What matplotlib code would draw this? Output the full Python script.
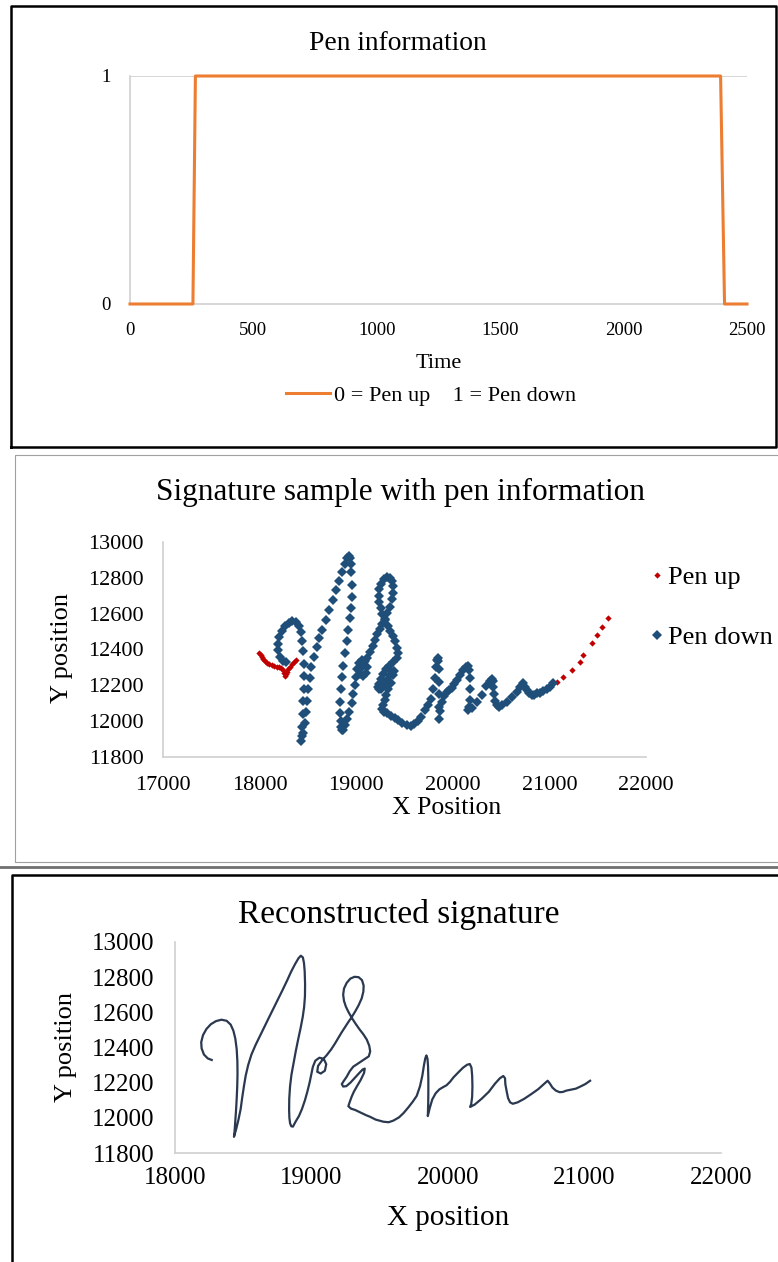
import matplotlib.pyplot as plt
from matplotlib.lines import Line2D

W, H = 778, 1262
plt.rcParams['font.family'] = ['Liberation Serif', 'DejaVu Serif']

# pen state over time: 0 = pen up, 1 = pen down
pen_time = [0, 255, 265, 2393, 2409, 2500]
pen_state = [0, 0, 1, 1, 0, 0]

# pen-up samples recorded before the first stroke and after the last one
up_start_x = [17997, 18010, 18022, 18040, 18056, 18078, 18101, 18125, 18149, 18175,
              18201, 18222, 18239, 18252, 18263, 18272, 18280, 18298, 18315, 18336,
              18356, 18377]
up_start_y = [12382, 12368, 12356, 12345, 12336, 12327, 12319, 12313, 12308, 12304,
              12301, 12294, 12286, 12270, 12252, 12262, 12276, 12290, 12304, 12318,
              12332, 12341]
up_end_x = [21075, 21144, 21231, 21317, 21345, 21438, 21490, 21542, 21604]
up_end_y = [12220, 12248, 12286, 12332, 12369, 12435, 12481, 12527, 12574]

# pen-down samples (the signature itself)
sig_x = [18269, 18240, 18212, 18195, 18192, 18205, 18230, 18262, 18300, 18340,
         18378, 18408, 18428, 18442, 18452, 18457, 18458, 18456, 18452, 18447,
         18441, 18436, 18432, 18448, 18465, 18481, 18492, 18505, 18518, 18536,
         18560, 18590, 18620, 18650, 18685, 18720, 18755, 18790, 18822, 18850,
         18880, 18905, 18922, 18937, 18945, 18950, 18953, 18952, 18946, 18936,
         18920, 18902, 18885, 18868, 18853, 18843, 18837, 18836, 18838, 18843,
         18852, 18864, 18884, 18908, 18930, 18952, 18970, 18986, 18999, 19010,
         19028, 19058, 19090, 19108, 19098, 19068, 19042, 19048, 19080, 19110,
         19143, 19170, 19195, 19220, 19245, 19270, 19295, 19320, 19345, 19368,
         19380, 19382, 19370, 19345, 19315, 19285, 19258, 19238, 19232, 19238,
         19252, 19272, 19298, 19325, 19352, 19380, 19405, 19423, 19430, 19420,
         19380, 19343, 19306, 19280, 19258, 19235, 19222, 19232, 19255, 19285,
         19320, 19350, 19375, 19390, 19385, 19360, 19331, 19310, 19294, 19280,
         19270, 19290, 19319, 19360, 19400, 19429, 19470, 19526, 19565, 19599,
         19640, 19673, 19710, 19742, 19771, 19795, 19812, 19824, 19834, 19842,
         19850, 19854, 19856, 19856, 19855, 19852, 19866, 19885, 19910, 19937,
         19965, 19989, 20015, 20040, 20075, 20110, 20140, 20160, 20172, 20177,
         20179, 20177, 20170, 20162, 20195, 20247, 20299, 20345, 20380, 20405,
         20418, 20420, 20430, 20440, 20455, 20475, 20510, 20558, 20610, 20661,
         20700, 20730, 20748, 20765, 20790, 20817, 20840, 20868, 20900, 20937,
         20970, 21006, 21041]
sig_y = [12329, 12338, 12360, 12395, 12430, 12470, 12505, 12532, 12550, 12558,
         12552, 12530, 12495, 12450, 12390, 12320, 12250, 12180, 12110, 12040,
         11970, 11920, 11892, 11935, 11990, 12050, 12113, 12180, 12240, 12300,
         12360, 12414, 12462, 12510, 12565, 12620, 12675, 12730, 12782, 12830,
         12875, 12908, 12922, 12912, 12880, 12834, 12760, 12691, 12630, 12575,
         12510, 12445, 12380, 12310, 12245, 12180, 12109, 12044, 12000, 11969,
         11952, 11950, 11979, 12010, 12050, 12100, 12150, 12200, 12248, 12290,
         12325, 12342, 12335, 12305, 12268, 12252, 12262, 12295, 12330, 12355,
         12388, 12420, 12453, 12485, 12515, 12545, 12573, 12605, 12640, 12680,
         12718, 12752, 12783, 12800, 12802, 12792, 12768, 12735, 12700, 12665,
         12632, 12600, 12565, 12533, 12503, 12475, 12445, 12410, 12378, 12350,
         12329, 12310, 12291, 12265, 12234, 12208, 12192, 12178, 12180, 12200,
         12230, 12255, 12275, 12280, 12255, 12215, 12177, 12148, 12120, 12090,
         12066, 12052, 12045, 12030, 12015, 12006, 11990, 11978, 11975, 11984,
         12002, 12026, 12060, 12092, 12125, 12180, 12240, 12300, 12340, 12355,
         12335, 12290, 12220, 12150, 12080, 12010, 12055, 12105, 12140, 12162,
         12175, 12185, 12205, 12230, 12258, 12285, 12302, 12306, 12285, 12240,
         12180, 12120, 12078, 12062, 12075, 12109, 12148, 12195, 12225, 12238,
         12225, 12192, 12150, 12112, 12088, 12080, 12088, 12108, 12135, 12163,
         12190, 12211, 12193, 12172, 12155, 12146, 12147, 12155, 12160, 12166,
         12178, 12192, 12211]

PEN_ORANGE = '#ED7D31'
DOWN_BLUE = '#1F4E79'
UP_RED = '#C00000'
SIG_INK = '#2A3950'
AXIS_GREY = '#D0D0D0'


def px_box(left, top, right, bottom):
    return [left / W, 1 - bottom / H, (right - left) / W, (bottom - top) / H]


def px_text(x, y, s, size, **kw):
    fig.text(x / W, 1 - y / H, s, fontsize=size, ha='center', va='center', **kw)


def px_line(xs, ys, color, lw):
    fig.add_artist(Line2D([x / W for x in xs], [1 - y / H for y in ys],
                          color=color, lw=lw, transform=fig.transFigure))


def plain_axes(ax):
    for side in ('top', 'right'):
        ax.spines[side].set_visible(False)
    for side in ('left', 'bottom'):
        ax.spines[side].set_color(AXIS_GREY)
        ax.spines[side].set_linewidth(1.2)


fig = plt.figure(figsize=(W / 100, H / 100), dpi=100)

# --- pen information over time ---
ax1 = fig.add_axes(px_box(130, 76, 747, 304))
plain_axes(ax1)
ax1.axhline(1, color=AXIS_GREY, lw=1.2, zorder=1)
ax1.plot(pen_time, pen_state, color=PEN_ORANGE, lw=2.2, clip_on=False,
         zorder=3, label='0 = Pen up    1 = Pen down')
ax1.set_xlim(0, 2500)
ax1.set_ylim(0, 1)
ax1.set_xticks(range(0, 2501, 500))
ax1.set_yticks([0, 1])
ax1.tick_params(length=0, labelsize=13.5)
ax1.tick_params(axis='x', pad=13)
ax1.tick_params(axis='y', pad=14)
px_text(398, 43, 'Pen information', 19.8)
px_text(439, 363, 'Time', 16)
ax1.legend(loc='center', bbox_to_anchor=(431 / W, 1 - 396 / H),
           bbox_transform=fig.transFigure, frameon=False, fontsize=16,
           handlelength=2.0, handletextpad=0.15)

# --- signature samples coloured by pen state ---
ax2 = fig.add_axes(px_box(163, 542, 646, 757))
plain_axes(ax2)
ax2.plot(up_start_x, up_start_y, 'D', color=UP_RED, ms=3.2, mew=0,
         label='Pen up')
ax2.plot(up_end_x, up_end_y, 'D', color=UP_RED, ms=3.2, mew=0)
ax2.plot(sig_x, sig_y, 'D', color=DOWN_BLUE, ms=4.6, mew=0, label='Pen down')
ax2.set_xlim(17000, 22000)
ax2.set_ylim(11800, 13000)
ax2.set_xticks(range(17000, 22001, 1000))
ax2.set_yticks(range(11800, 13001, 200))
ax2.tick_params(length=0, labelsize=16)
ax2.tick_params(axis='x', pad=14)
ax2.tick_params(axis='y', pad=14)
px_text(400, 492, 'Signature sample with pen information', 22.5)
px_text(447, 808, 'X Position', 18.5)
px_text(62, 648, 'Y position', 19, rotation=90)
ax2.legend(loc='upper left', bbox_to_anchor=(650 / W, 1 - 566 / H),
           bbox_transform=fig.transFigure, frameon=False, fontsize=19,
           handlelength=0.5, handletextpad=0.2, labelspacing=1.38,
           borderpad=0, borderaxespad=0)

# --- reconstructed signature from pen-down samples ---
ax3 = fig.add_axes(px_box(175, 942, 721, 1153))
plain_axes(ax3)
ax3.plot(sig_x, sig_y, color=SIG_INK, lw=1.6, solid_joinstyle='round')
ax3.set_xlim(18000, 22000)
ax3.set_ylim(11800, 13000)
ax3.set_xticks(range(18000, 22001, 1000))
ax3.set_yticks(range(11800, 13001, 200))
ax3.tick_params(length=0, labelsize=18)
ax3.tick_params(axis='x', pad=10)
ax3.tick_params(axis='y', pad=15)
px_text(399, 915, 'Reconstructed signature', 24)
px_text(448, 1218, 'X position', 21)
px_text(66, 1047, 'Y position', 19, rotation=90)

# panel frames
px_line([11, 11, 776, 776, 11], [447, 6, 6, 447, 447], 'black', 1.8)
px_line([778, 15, 15, 778], [455, 455, 862, 862], '#A0A0A0', 0.8)
px_line([0, 778], [867, 867], '#707070', 2.0)
px_line([778, 12, 12], [875, 875, 1262], 'black', 1.8)

fig.savefig('out.png', dpi=100)
